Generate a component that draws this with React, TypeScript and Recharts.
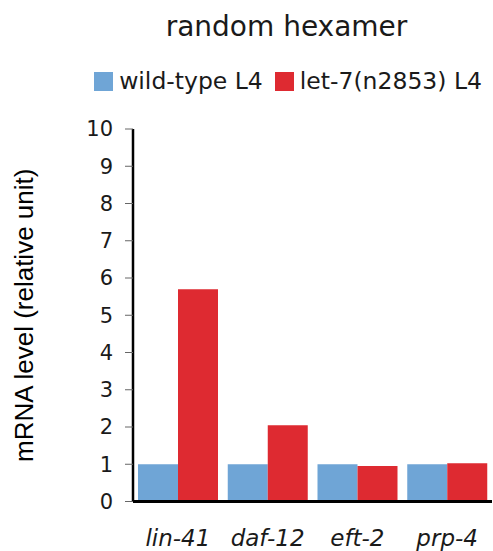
import React from 'react';
import { BarChart, Bar, XAxis, YAxis, Legend } from 'recharts';

// Relative mRNA level per gene, random hexamer primed
const genes = ['lin-41', 'daf-12', 'eft-2', 'prp-4'];
const wildTypeL4 = [1.0, 1.0, 1.0, 1.0];
const let7L4 = [5.7, 2.05, 0.95, 1.03];
const yTicks = [0, 1, 2, 3, 4, 5, 6, 7, 8, 9, 10];

const seriesNames = ['wild-type L4', 'let-7(n2853) L4'];
const seriesColors = ['#6fa5d6', '#de2a31'];

const data = genes.map((gene, i) => ({
  gene,
  wt: wildTypeL4[i],
  let7: let7L4[i],
}));

const sansFont = '"DejaVu Sans", Verdana, sans-serif';

const LegendRow = () => (
  <div
    style={{
      display: 'flex',
      justifyContent: 'flex-end',
      alignItems: 'flex-start',
      paddingRight: 10,
      fontFamily: sansFont,
      fontSize: 23.5,
      color: '#1a1a1a',
      height: 63,
    }}
  >
    <div style={{ display: 'flex', alignItems: 'center', marginTop: 1 }}>
      {seriesNames.map((name, i) => (
        <span key={name} style={{ display: 'flex', alignItems: 'center', marginLeft: i ? 12 : 0 }}>
          <span
            style={{
              display: 'inline-block',
              width: 19,
              height: 19,
              background: seriesColors[i],
              marginRight: 6,
            }}
          />
          {name}
        </span>
      ))}
    </div>
  </div>
);

export default function App() {
  return (
    <div style={{ position: 'absolute', left: 0, top: 0, width: 493, height: 551, background: '#fff' }}>
      <div
        style={{
          position: 'absolute',
          left: 0,
          top: 10,
          width: 573,
          textAlign: 'center',
          fontFamily: sansFont,
          fontSize: 28,
          color: '#1a1a1a',
        }}
      >
        random hexamer
      </div>
      <BarChart
        width={493}
        height={551}
        data={data}
        margin={{ top: 66, right: 1, bottom: 0, left: 0 }}
        barGap={0}
        barCategoryGap={5}
      >
        <Legend verticalAlign="top" align="right" content={() => <LegendRow />} />
        <XAxis
          dataKey="gene"
          tickLine={false}
          axisLine={{ stroke: '#000', strokeWidth: 3 }}
          tick={{ fontFamily: sansFont, fontSize: 23, fontStyle: 'italic', fill: '#1a1a1a' }}
          tickMargin={22}
          height={49.5}
          interval={0}
        />
        <XAxis
          xAxisId="top"
          orientation="top"
          dataKey="gene"
          tick={false}
          tickLine={false}
          height={0}
          axisLine={{ stroke: '#111', strokeWidth: 2 }}
        />
        <YAxis
          domain={[0, 10]}
          ticks={yTicks}
          interval={0}
          width={133}
          tickSize={8}
          tickMargin={12}
          tickLine={{ stroke: '#666' }}
          axisLine={{ stroke: '#000', strokeWidth: 2.5 }}
          tick={{ fontFamily: sansFont, fontSize: 21, fill: '#1a1a1a' }}
          label={{
            value: 'mRNA level (relative unit)',
            angle: -90,
            position: 'insideLeft',
            offset: 24,
            style: {
              textAnchor: 'middle',
              fontFamily: '"Liberation Sans", Arial, sans-serif',
              fontSize: 26,
              fill: '#000',
            },
          }}
        />
        <YAxis
          yAxisId="right"
          orientation="right"
          width={0}
          tick={false}
          tickLine={false}
          axisLine={{ stroke: '#444', strokeWidth: 1.5 }}
        />
        <Bar dataKey="wt" name={seriesNames[0]} fill={seriesColors[0]} isAnimationActive={false} />
        <Bar dataKey="let7" name={seriesNames[1]} fill={seriesColors[1]} isAnimationActive={false} />
      </BarChart>
    </div>
  );
}
